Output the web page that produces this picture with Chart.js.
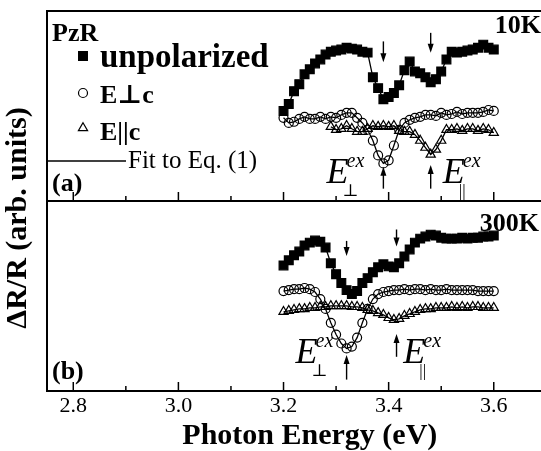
<!DOCTYPE html>
<html lang="en">
<head>
<meta charset="UTF-8">
<title>PzR spectra</title>
<script src="https://cdn.jsdelivr.net/npm/chart.js"></script>
<style>
  html, body { margin: 0; padding: 0; background: #fff; overflow: hidden; }
  #wrap { position: relative; width: 580px; height: 451px; }
</style>
</head>
<body>
<div id="wrap"><canvas id="pzrChart" width="580" height="451"></canvas></div>
<script>
// photon energy (eV), shared by every series
const energy = [3.20, 3.21, 3.22, 3.23, 3.24, 3.25, 3.26, 3.27, 3.28, 3.29,
                3.30, 3.31, 3.32, 3.33, 3.34, 3.35, 3.36, 3.37, 3.38, 3.39,
                3.40, 3.41, 3.42, 3.43, 3.44, 3.45, 3.46, 3.47, 3.48, 3.49,
                3.50, 3.51, 3.52, 3.53, 3.54, 3.55, 3.56, 3.57, 3.58, 3.59, 3.60];

// (a) 10K, arb. units with vertical offsets
const unpol10K = [47.4, 51.0, 57.8, 61.5, 66.7, 69.3, 72.4, 74.5, 77.1, 78.6,
                  79.2, 79.7, 80.7, 80.2, 79.7, 78.6, 78.1, 65.1, 59.4, 53.6,
                  54.7, 56.8, 60.9, 68.8, 73.4, 68.2, 67.2, 65.1, 62.5, 64.1,
                  68.2, 74.5, 78.6, 78.1, 78.6, 79.2, 79.7, 80.7, 82.3, 80.7, 79.7];
const perp10K = [43.8, 41.1, 41.7, 43.2, 44.3, 43.2, 43.2, 44.3, 43.2, 44.3,
                 43.8, 45.3, 46.4, 46.4, 43.8, 41.1, 37.5, 31.8, 24.0, 19.8,
                 21.4, 29.2, 37.5, 41.1, 42.7, 43.8, 44.3, 45.3, 45.3, 44.8,
                 46.4, 45.3, 45.8, 46.9, 45.8, 46.4, 46.4, 46.4, 46.9, 47.9, 47.4];
const para10K = [null, null, null, null, null, null, null, null, null, 39.1,
                 37.5, 38.0, 39.6, 38.0, 36.5, 36.5, 38.0, 39.6, 39.1, 39.6,
                 39.1, 39.6, 37.0, 36.5, 36.5, 34.9, 31.8, 28.1, 24.5, 27.1,
                 31.8, 37.5, 37.5, 38.0, 37.0, 38.0, 38.0, 37.0, 38.0, 37.5, 35.9];

// (b) 300K
const unpol300K = [66.1, 68.8, 71.4, 73.4, 76.6, 78.1, 79.2, 78.6, 75.5, 67.2,
                   61.5, 56.8, 53.1, 51.0, 52.6, 56.8, 59.4, 62.5, 65.1, 66.7,
                   65.6, 65.1, 67.2, 70.8, 74.5, 78.1, 80.2, 81.3, 82.3, 81.8,
                   80.7, 80.2, 80.2, 80.2, 80.7, 80.2, 80.7, 80.7, 81.3, 81.3, 81.8];
const perp300K = [52.6, 53.1, 53.6, 53.6, 54.2, 53.6, 52.1, 48.4, 43.2, 35.9,
                  29.7, 25.0, 22.4, 23.4, 28.1, 35.9, 43.2, 48.4, 51.0, 52.1,
                  52.6, 53.1, 53.1, 53.6, 53.1, 53.6, 53.6, 53.1, 53.6, 53.1,
                  53.1, 53.6, 53.1, 53.1, 53.1, 53.1, 53.1, 52.6, 52.6, 52.6, 52.6];
const para300K = [41.7, 42.2, 42.7, 43.2, 43.2, 43.8, 43.8, 44.3, 44.3, 44.8,
                  44.8, 44.8, 44.8, 44.3, 44.3, 43.8, 42.7, 42.2, 41.1, 40.1,
                  38.5, 37.5, 38.0, 39.6, 40.6, 41.7, 42.7, 43.2, 43.2, 43.8,
                  43.8, 43.8, 44.3, 43.8, 44.3, 43.8, 44.3, 44.3, 43.8, 43.8, 43.8];

const tickValues = [2.8, 3.0, 3.2, 3.4, 3.6];
const minorTicks = [2.9, 3.1, 3.3, 3.5, 3.7];

// exciton energies marked by arrows (eV)
const exciton10K = [3.39, 3.48];
const exciton300K = [3.32, 3.415];

const SERIF = '"Liberation Serif", "Times New Roman", "DejaVu Serif", serif';

function pts(ys) {
    return energy.map((e, i) => ({ x: e, y: ys[i] }));
}

function series(label, ys, axis, style) {
    const base = {
        label: label,
        data: pts(ys),
        yAxisID: axis,
        showLine: true,
        borderColor: '#000',
        borderWidth: 1.3,
        pointBorderColor: '#000',
        pointBorderWidth: 1.2
    };
    if (style === 'rect') {
        return Object.assign(base, { pointStyle: 'rect', pointRadius: 6.2, pointBackgroundColor: '#000' });
    }
    if (style === 'circle') {
        return Object.assign(base, { pointStyle: 'circle', pointRadius: 4.5, pointBackgroundColor: 'rgba(0,0,0,0)' });
    }
    return Object.assign(base, { pointStyle: 'triangle', pointRadius: 5.3, pointBackgroundColor: 'rgba(0,0,0,0)' });
}

function arrow(ctx, x, y1, y2) {
    // shaft from y1 to y2, head at y2
    const dir = y2 > y1 ? 1 : -1;
    ctx.beginPath();
    ctx.moveTo(x, y1);
    ctx.lineTo(x, y2 - dir * 6);
    ctx.stroke();
    ctx.beginPath();
    ctx.moveTo(x, y2);
    ctx.lineTo(x - 3, y2 - dir * 9);
    ctx.lineTo(x + 3, y2 - dir * 9);
    ctx.closePath();
    ctx.fill();
}

function excitonLabel(ctx, x, y, sub) {
    ctx.textAlign = 'left';
    ctx.textBaseline = 'alphabetic';
    ctx.font = 'italic 36px ' + SERIF;
    ctx.fillText('E', x, y);
    const w = ctx.measureText('E').width;
    ctx.font = 'italic 20px ' + SERIF;
    ctx.fillText('ex', x + w - 2, y - 16);
    ctx.font = '17px ' + SERIF;
    ctx.fillText(sub, x + w - 6, y + 13);
}

const decor = {
    id: 'decor',
    afterDraw(chart) {
        const { ctx, chartArea: a, scales } = chart;
        const x = scales.x, yT = scales.yTop, yB = scales.yBot;
        const mid = yT.getPixelForValue(0);
        ctx.save();
        ctx.strokeStyle = '#000';
        ctx.fillStyle = '#000';

        // frame and panel divider
        ctx.lineWidth = 2;
        ctx.strokeRect(a.left, a.top, a.right - a.left, a.bottom - a.top);
        ctx.beginPath();
        ctx.moveTo(a.left, mid);
        ctx.lineTo(a.right, mid);
        ctx.stroke();

        // inward ticks on both bottom edges
        ctx.lineWidth = 1.5;
        [mid, a.bottom].forEach(base => {
            tickValues.forEach(v => {
                const px = x.getPixelForValue(v);
                ctx.beginPath(); ctx.moveTo(px, base); ctx.lineTo(px, base - 9); ctx.stroke();
            });
            minorTicks.forEach(v => {
                const px = x.getPixelForValue(v);
                ctx.beginPath(); ctx.moveTo(px, base); ctx.lineTo(px, base - 5); ctx.stroke();
            });
        });

        // arrows
        ctx.lineWidth = 1.4;
        const ex1 = x.getPixelForValue(exciton10K[0]), ex2 = x.getPixelForValue(exciton10K[1]);
        arrow(ctx, ex1, yT.getPixelForValue(84), yT.getPixelForValue(73));
        arrow(ctx, ex2, yT.getPixelForValue(88.5), yT.getPixelForValue(78));
        arrow(ctx, ex1, yT.getPixelForValue(6.5), yT.getPixelForValue(18));
        arrow(ctx, ex2, yT.getPixelForValue(6.5), yT.getPixelForValue(19));
        const ex3 = x.getPixelForValue(exciton300K[0]), ex4 = x.getPixelForValue(exciton300K[1]);
        arrow(ctx, ex3, yB.getPixelForValue(79), yB.getPixelForValue(71));
        arrow(ctx, ex4, yB.getPixelForValue(85), yB.getPixelForValue(76));
        arrow(ctx, ex3, yB.getPixelForValue(6), yB.getPixelForValue(19));
        arrow(ctx, ex4, yB.getPixelForValue(18), yB.getPixelForValue(30));

        // exciton labels
        excitonLabel(ctx, x.getPixelForValue(3.282), yT.getPixelForValue(9.4), '\u22A5');
        excitonLabel(ctx, x.getPixelForValue(3.503), yT.getPixelForValue(9.4), '||');
        excitonLabel(ctx, x.getPixelForValue(3.223), yB.getPixelForValue(14.6), '\u22A5');
        excitonLabel(ctx, x.getPixelForValue(3.428), yB.getPixelForValue(14.6), '||');

        // panel texts
        ctx.textBaseline = 'alphabetic';
        ctx.textAlign = 'left';
        ctx.font = 'bold 26px ' + SERIF;
        ctx.fillText('PzR', a.left + 5, a.top + 30);
        ctx.fillText('(a)', a.left + 5, mid - 10);
        ctx.fillText('(b)', a.left + 5, a.bottom - 12);
        ctx.textAlign = 'right';
        ctx.fillText('10K', 541, a.top + 22);
        ctx.fillText('300K', 539, mid + 30);

        // legend
        const lx = a.left + 36;
        ctx.lineWidth = 1.2;
        Chart.helpers.drawPoint(ctx, { pointStyle: 'rect', radius: 6.2, borderWidth: 1 }, lx, a.top + 45);
        ctx.fillStyle = 'rgba(0,0,0,0)';
        Chart.helpers.drawPoint(ctx, { pointStyle: 'circle', radius: 4.5, borderWidth: 1.2 }, lx, a.top + 82);
        Chart.helpers.drawPoint(ctx, { pointStyle: 'triangle', radius: 5.3, borderWidth: 1.2 }, lx, a.top + 117);
        ctx.fillStyle = '#000';
        ctx.lineWidth = 1.6;
        ctx.beginPath();
        ctx.moveTo(a.left, a.top + 150);
        ctx.lineTo(a.left + 79, a.top + 150);
        ctx.stroke();
        ctx.textAlign = 'left';
        ctx.font = 'bold 33px ' + SERIF;
        ctx.fillText('unpolarized', a.left + 53, a.top + 56);
        ctx.font = 'bold 26px ' + SERIF;
        ctx.fillText('E\u22A5c', a.left + 53, a.top + 92);
        ctx.fillText('E||c', a.left + 53, a.top + 129);
        ctx.font = '25px ' + SERIF;
        ctx.fillText('Fit to Eq. (1)', a.left + 81, a.top + 157);

        // y axis title, spans both panels
        ctx.save();
        ctx.translate(18, 218);
        ctx.rotate(-Math.PI / 2);
        ctx.textAlign = 'center';
        ctx.textBaseline = 'middle';
        ctx.font = 'bold 30px ' + SERIF;
        ctx.fillText('\u0394R/R (arb. units)', 0, 0);
        ctx.restore();

        ctx.restore();
    }
};

new Chart(document.getElementById('pzrChart'), {
    type: 'scatter',
    data: {
        datasets: [
            series('E\u22A5c 10K', perp10K, 'yTop', 'circle'),
            series('E||c 10K', para10K, 'yTop', 'triangle'),
            series('unpolarized 10K', unpol10K, 'yTop', 'rect'),
            series('E\u22A5c 300K', perp300K, 'yBot', 'circle'),
            series('E||c 300K', para300K, 'yBot', 'triangle'),
            series('unpolarized 300K', unpol300K, 'yBot', 'rect')
        ]
    },
    options: {
        responsive: false,
        animation: false,
        layout: { padding: { left: 47, top: 11, right: 5, bottom: 0 } },
        plugins: { legend: { display: false }, tooltip: { enabled: false } },
        scales: {
            x: {
                type: 'linear',
                min: 2.75,
                max: 3.75,
                grid: { display: false, drawTicks: false, tickLength: 0 },
                border: { display: false },
                afterBuildTicks: axis => { axis.ticks = tickValues.map(v => ({ value: v })); },
                ticks: {
                    color: '#000',
                    padding: 4,
                    maxRotation: 0,
                    font: { family: SERIF, size: 22, lineHeight: 1 },
                    callback: v => Number(v).toFixed(1)
                },
                title: {
                    display: true,
                    text: 'Photon Energy (eV)',
                    color: '#000',
                    padding: { top: 0, bottom: 0 },
                    font: { family: SERIF, size: 30, weight: 'bold', lineHeight: 1 }
                }
            },
            // top panel uses the upper half, bottom panel the lower half
            yTop: { display: false, min: -100, max: 100 },
            yBot: { display: false, min: 0, max: 200 }
        }
    },
    plugins: [decor]
});
</script>
</body>
</html>
